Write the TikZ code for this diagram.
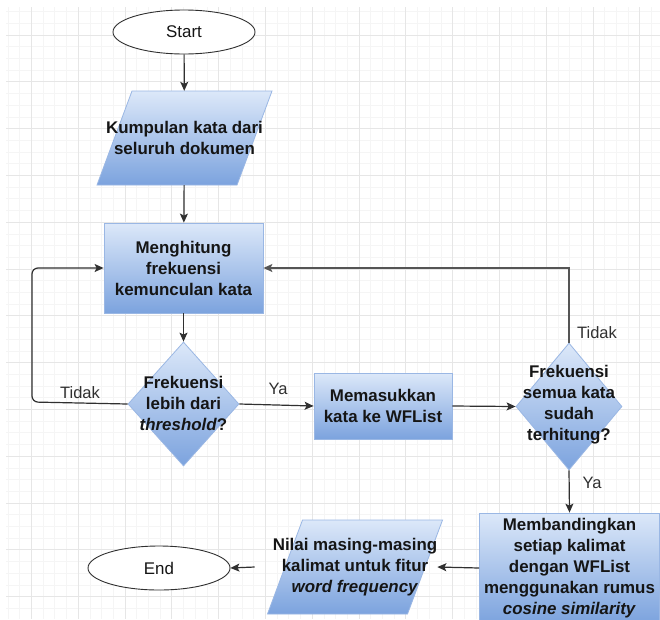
\documentclass[tikz,border=0pt]{standalone}
\usepackage{fontspec}
\setmainfont{Liberation Sans}
\usetikzlibrary{shapes.geometric,arrows.meta}
\definecolor{ftop}{HTML}{DCE8F9}
\definecolor{fbot}{HTML}{7CA3DE}
\definecolor{fbord}{HTML}{9AB7E4}
\definecolor{gmaj}{HTML}{E6E6E6}
\definecolor{gmin}{HTML}{F5F5F5}
\definecolor{lnk}{HTML}{303030}
\definecolor{lnkgray}{HTML}{555555}
\definecolor{txt}{HTML}{151515}
\tikzset{
  blockfill/.style={top color=ftop, bottom color=fbot, draw=fbord, line width=0.8pt},
  btxt/.style={align=center, text=txt, font=\fontsize{16.9}{21}\selectfont\bfseries, inner sep=0pt},
  procbox/.style={blockfill, btxt, rectangle},
  decision/.style={blockfill, diamond, inner sep=0pt},
  ioshape/.style={btxt, rectangle, minimum width=140pt, minimum height=94pt},
  terminal/.style={ellipse, draw=lnk, fill=white, line width=0.9pt, inner sep=0pt,
     minimum width=142pt, minimum height=44pt, text=txt, font=\fontsize{16.9}{20}\selectfont},
  arr/.style={draw=lnk, line width=1.2pt, -{Stealth[length=9pt,width=8pt,inset=2pt]}},
  lbl/.style={text=lnk, font=\fontsize{16.5}{20}\selectfont, inner sep=0pt}
}
\begin{document}
\begin{tikzpicture}[x=1pt,y=-1pt]
\useasboundingbox (0,0) rectangle (660,619);
\fill[white] (0,0) rectangle (660,619);
% grid
\foreach \i in {0,...,55} \draw[gmin, line width=0.8pt] ({8+11.7*\i},7) -- ({8+11.7*\i},619);
\foreach \j in {0,...,51} \draw[gmin, line width=0.8pt] (6,{11.6+11.7*\j}) -- (660,{11.6+11.7*\j});
\foreach \i in {0,...,13} \draw[gmaj, line width=0.9pt] ({31.4+46.8*\i},7) -- ({31.4+46.8*\i},619);
\foreach \j in {0,...,12} \draw[gmaj, line width=0.9pt] (6,{35+46.8*\j}) -- (660,{35+46.8*\j});

% nodes
\node[terminal] (start) at (184,32) {Start};

\coordinate (p1) at (184.5,138);
\path[blockfill] ([shift={(-52.5,-47)}]p1) -- ([shift={(87.5,-47)}]p1)
   -- ([shift={(52.5,47)}]p1) -- ([shift={(-87.5,47)}]p1) -- cycle;
\node[ioshape] (para1) at (p1) {Kumpulan kata dari\\seluruh dokumen};

\node[procbox, minimum width=159pt, minimum height=90pt] (rect1) at (183.5,268)
   {Menghitung\\frekuensi\\kemunculan kata};

\node[decision, minimum width=111pt, minimum height=124pt] (d1) at (183.5,404) {};
\node[btxt] (d1t) at ([yshift=1pt]d1.center) {Frekuensi\\lebih dari\\\textit{threshold}?};

\node[procbox, minimum width=138pt, minimum height=66pt] (rect2) at (383,406)
   {Memasukkan\\kata ke WFList};

\node[decision, minimum width=106pt, minimum height=127pt] (d2) at (569,406.5) {};
\node[btxt] (d2t) at ([yshift=1.5pt]d2.center) {Frekuensi\\semua kata\\sudah\\terhitung?};

\node[procbox, minimum width=180pt, minimum height=110pt] (rect3) at (569.5,568)
   {Membandingkan\\setiap kalimat\\dengan WFList\\menggunakan rumus\\\textit{cosine similarity}};

\coordinate (p2) at (355,567);
\path[blockfill] ([shift={(-52.5,-47)}]p2) -- ([shift={(87.5,-47)}]p2)
   -- ([shift={(52.5,47)}]p2) -- ([shift={(-87.5,47)}]p2) -- cycle;
\node[ioshape] (para2) at (p2) {Nilai masing-masing\\kalimat untuk fitur\\\textit{word frequency}};

\node[terminal] (end) at (159,568) {End};

% connectors
\coordinate (loopx) at (32,0);
\draw[arr] (start) -- (para1);
\draw[arr] (para1) -- (rect1);
\draw[arr] (rect1) -- (d1);
\draw[arr] (d1.east) -- (rect2.west);
\draw[arr] (rect2.east) -- (d2.west);
\draw[arr, rounded corners=6pt] (d1.west) -- ([yshift=2pt]d1.west -| loopx) -- (rect1.west -| loopx) -- (rect1.west);
\draw[arr, draw=lnkgray] (d2.north) |- (rect1.east);
\draw[arr] (d2.south) -- (rect3.north);
\draw[arr] (rect3.west) -- (para2.east);
\draw[arr] ([xshift=-18pt]para2.west) -- (end.east);

% labels
\node[lbl] (l1) at (80,393) {Tidak};
\node[lbl] (l2) at (278,389) {Ya};
\node[lbl] (l3) at (597,333) {Tidak};
\node[lbl] (l4) at (592,483) {Ya};
\end{tikzpicture}
\end{document}
